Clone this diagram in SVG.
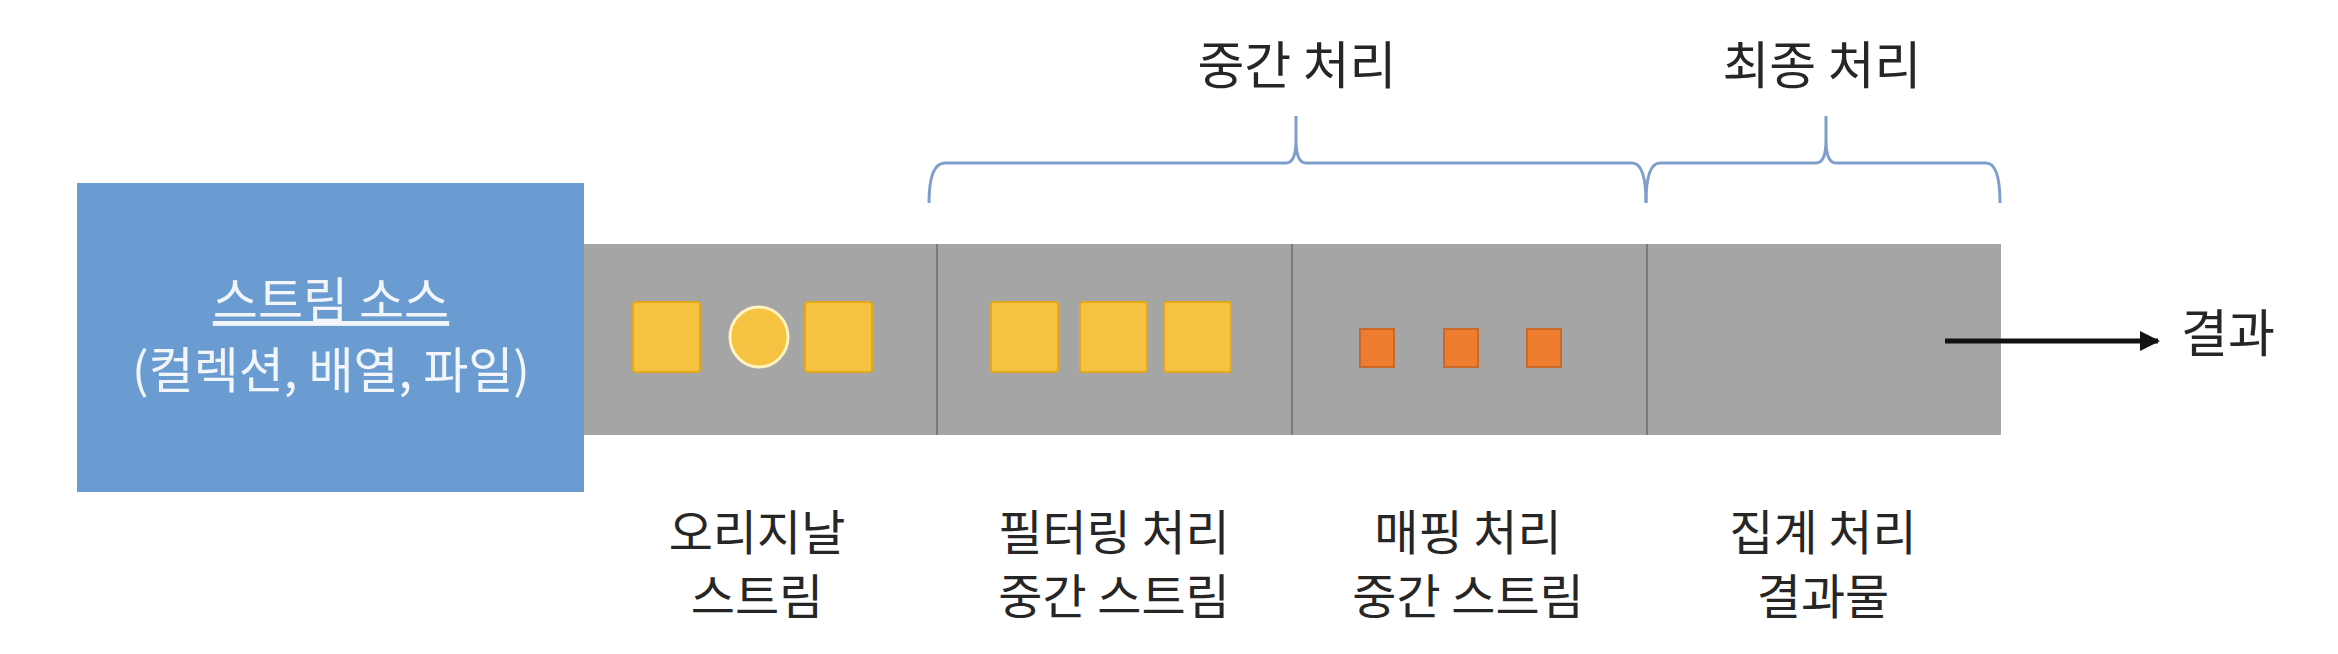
<svg xmlns="http://www.w3.org/2000/svg" width="2338" height="654" viewBox="0 0 2338 654">
<defs>
<style>
.lbl{font-family:"Noto Sans CJK KR","Noto Sans",sans-serif;font-size:48px;fill:#262626;text-anchor:middle}
.top{font-family:"Noto Sans CJK KR","Noto Sans",sans-serif;font-size:51px;fill:#262626;text-anchor:middle}
.src{font-family:"Noto Sans CJK KR","Noto Sans",sans-serif;font-size:49px;fill:#f2f6fb;text-anchor:middle}
.brace{fill:none;stroke:#7f9ecb;stroke-width:3}
.div{stroke:#7a7a7a;stroke-width:2}
.ysq{fill:#f5c242;stroke:#e3a91a;stroke-width:2}
.osq{fill:#ee7d30;stroke:#c8682a;stroke-width:2}
</style>
<marker id="ah" viewBox="0 0 10 10" refX="9" refY="5" markerWidth="4" markerHeight="4" orient="auto">
<path d="M0,0 L10,5 L0,10 z" fill="#111"/>
</marker>
</defs>
<rect width="2338" height="654" fill="#ffffff"/>
<g id="source">
<rect x="77" y="183" width="507" height="309" fill="#6a9bd1"/>
<text class="src" x="331" y="318" text-decoration="underline">스트림 소스</text>
<text class="src" x="331" y="388">(컬렉션, 배열, 파일)</text>
</g>
<g id="pipeline">
<rect x="584" y="244" width="1417" height="191" fill="#a5a5a5"/>
<line class="div" x1="937" y1="244" x2="937" y2="435"/>
<line class="div" x1="1292" y1="244" x2="1292" y2="435"/>
<line class="div" x1="1647" y1="244" x2="1647" y2="435"/>
</g>
<g id="original">
<rect class="ysq" x="633" y="302" width="67" height="70" rx="3"/>
<ellipse cx="759" cy="337" rx="29" ry="30" fill="#f5c242" stroke="#fff4c0" stroke-width="3"/>
<rect class="ysq" x="805" y="302" width="67" height="70" rx="3"/>
<text class="lbl" x="757" y="550">오리지날</text>
<text class="lbl" x="757" y="614">스트림</text>
</g>
<g id="filter">
<rect class="ysq" x="991" y="302" width="67" height="70" rx="3"/>
<rect class="ysq" x="1080" y="302" width="67" height="70" rx="3"/>
<rect class="ysq" x="1164" y="302" width="67" height="70" rx="3"/>
<text class="lbl" x="1114" y="550">필터링 처리</text>
<text class="lbl" x="1114" y="614">중간 스트림</text>
</g>
<g id="map">
<rect class="osq" x="1360" y="329" width="34" height="38"/>
<rect class="osq" x="1444" y="329" width="34" height="38"/>
<rect class="osq" x="1527" y="329" width="34" height="38"/>
<text class="lbl" x="1468" y="550">매핑 처리</text>
<text class="lbl" x="1468" y="614">중간 스트림</text>
</g>
<g id="aggregate">
<text class="lbl" x="1823" y="550">집계 처리</text>
<text class="lbl" x="1823" y="614">결과물</text>
</g>
<g id="mid-label">
<path class="brace" d="M929,203 Q929,163 945,163 L1286,163 Q1296,163 1296,140 L1296,116 M1296,140 Q1296,163 1306,163 L1632,163 Q1646,163 1646,203"/>
<text class="top" x="1297" y="84">중간 처리</text>
</g>
<g id="final-label">
<path class="brace" d="M1646,203 Q1646,163 1660,163 L1816,163 Q1826,163 1826,140 L1826,116 M1826,140 Q1826,163 1836,163 L1986,163 Q2000,163 2000,203"/>
<text class="top" x="1822" y="84">최종 처리</text>
</g>
<g id="result">
<text class="top" x="2228" y="352">결과</text>
</g>
<g id="connectors">
<line x1="1945" y1="341" x2="2158" y2="341" stroke="#111" stroke-width="5" marker-end="url(#ah)"/>
</g>
</svg>
